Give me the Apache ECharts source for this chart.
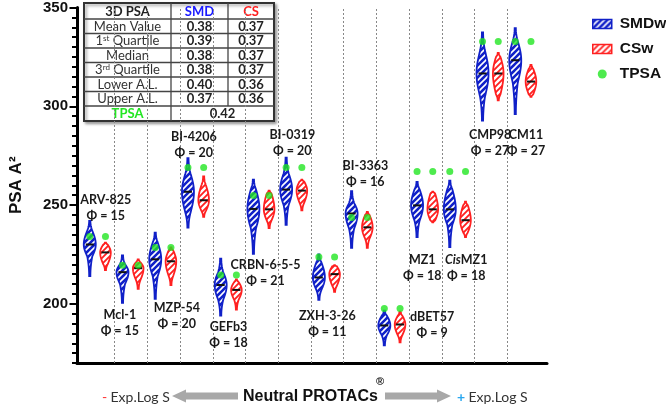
<!DOCTYPE html>
<html>
<head>
<meta charset="utf-8">
<script src="https://cdn.jsdelivr.net/npm/echarts@6/dist/echarts.min.js"></script>
<style>
html, body { margin: 0; padding: 0; background: #fff; }
#chart { width: 666px; height: 405px; }
</style>
</head>
<body>
<div id="chart"></div>
<script>
// PROTAC names and their phi values
const compounds = ['ARV-825', 'Mcl-1', 'MZP-54', 'BI-4206', 'GEFb3', 'CRBN-6-5-5', 'BI-0319',
  'ZXH-3-26', 'BI-3363', 'dBET57', 'MZ1', 'CisMZ1', 'CMP98', 'CM11']
const phi = [15, 15, 20, 20, 18, 21, 20, 11, 16, 9, 18, 18, 27, 27]

// SMDw violins: min, body low, median, body high, max
const smdMin = [214, 200.5, 202.5, 238.5, 194, 225.3, 240, 202, 228.3, 179, 233.7, 228.7, 292.7, 296]
const smdLow = [224, 210, 214, 246, 202, 238, 250, 207, 238, 184, 242, 240, 305, 312]
const smdMed = [230, 216, 222.5, 256.7, 209.5, 248, 257.8, 213.3, 245.7, 189, 249.8, 247.8, 316.6, 323.3]
const smdHigh = [237, 220, 231, 266, 216, 258, 266, 221, 251, 194, 258, 258, 328, 333]
const smdMax = [242, 224.5, 236, 273.7, 222.8, 262.8, 274, 225, 257, 196.5, 261.7, 262.3, 337.4, 339.5]

// CSw violins
const csMin = [217, 207.5, 209.5, 244, 197, 238.3, 247.3, 206, 228.3, 180.5, 241.2, 233.7, 303, 304.7]
const csLow = [220, 212, 214, 247, 202, 242, 251, 209, 233, 184, 242, 236, 306, 306]
const csMed = [226, 218, 221.5, 252.4, 207, 247.8, 257.3, 215, 238.7, 189.5, 247.8, 242.3, 316.6, 312.5]
const csHigh = [230, 221, 227, 260, 211, 256, 262, 219, 245, 194, 256, 250, 325, 319]
const csMax = [231, 222.5, 228.5, 264.5, 212.3, 257.3, 262.8, 219.5, 246.5, 196, 256.7, 251.7, 327, 321]

// topological PSA
const tpsa = [234, 219.5, 228.5, 269, 214.5, 254.8, 269, 223.7, 243.7, 197.6, 267, 267, 332.8, 332.8]

// where each name label sits (category units, PSA units)
const labelX = [0.73, 1.16, 2.9, 3.42, 4.48, 5.61, 6.43, 7.5, 8.66, 10.7, 10.4, 11.74, 12.47, 13.57]
const labelY = [248.4, 190.1, 193.8, 280.5, 184, 215.7, 281.3, 190, 265.8, 189.2, 218, 217.9, 281.3, 281.3]

const yTicks = [200, 250, 300, 350]

// inset table
const statRows = ['Mean Value', '1{sup|st} Quartile', 'Median', '3{sup|rd} Quartile', 'Lower A.L.', 'Upper A.L.']
const smdStats = ['0.38', '0.39', '0.38', '0.38', '0.40', '0.37']
const csStats = ['0.37', '0.37', '0.37', '0.37', '0.36', '0.36']
const tpsaR = '0.42'

const BLUE = '#1020c8'
const RED = '#ff2020'
const GREEN = '#22e622'
const SMD_OFF = 0.24
const CS_OFF = 0.72

function hatch (bg, fg, lw) {
  let c = document.createElement('canvas')
  c.width = 6
  c.height = 6
  let g = c.getContext('2d')
  g.fillStyle = bg
  g.fillRect(0, 0, 6, 6)
  g.strokeStyle = fg
  g.lineWidth = lw
  g.beginPath()
  g.moveTo(-1, 7); g.lineTo(7, -1)
  g.moveTo(-1, 1); g.lineTo(1, -1)
  g.moveTo(5, 7); g.lineTo(7, 5)
  g.stroke()
  return { image: c, repeat: 'repeat' }
}
const bluePat = hatch(BLUE, '#ffffff', 1.6)
const redPat = hatch('#ffffff', RED, 1.8)

// half width profile, 0..1
function profile (v, lo, b0, med, b1, hi) {
  const tail = 0.1, base = 0.42
  if (v < b0) { let t = (v - lo) / (b0 - lo); return tail + (base - tail) * t * t }
  if (v > b1) { let t = (hi - v) / (hi - b1); return tail + (base - tail) * t * t }
  let s = v <= med
    ? Math.sin(Math.PI / 2 * (v - b0) / (med - b0))
    : Math.sin(Math.PI / 2 * (b1 - v) / (b1 - med))
  return base + (1 - base) * s
}

function violin (offset, halfW, color, fill) {
  return function (params, api) {
    let x = api.value(0) + offset
    let lo = api.value(1), b0 = api.value(2), med = api.value(3), b1 = api.value(4), hi = api.value(5)
    let left = [], right = []
    let n = 50
    for (let k = 0; k <= n; k++) {
      let v = lo + (hi - lo) * k / n
      let p = api.coord([x, v])
      let w = profile(v, lo, b0, med, b1, hi) * halfW
      left.push([p[0] - w, p[1]])
      right.unshift([p[0] + w, p[1]])
    }
    let pm = api.coord([x, med])
    return {
      type: 'group',
      children: [
        { type: 'polygon', shape: { points: left.concat(right) }, style: { fill: fill, stroke: color, lineWidth: 1.8 } },
        { type: 'line', shape: { x1: pm[0] - 4, y1: pm[1], x2: pm[0] + 4, y2: pm[1] }, style: { stroke: '#111', lineWidth: 2 } }
      ]
    }
  }
}

// compound name + phi, placed through the axes
const labelFont = { fontFamily: 'Lato', fontWeight: 'bold', fontSize: 12.5, fill: '#1a1a1a', lineHeight: 16 }
function nameLabel (params, api) {
  let i = params.dataIndex
  let p = api.coord([api.value(0), api.value(1)])
  let name = compounds[i]
  let first = name.indexOf('Cis') === 0 ? '{it|Cis}{b|' + name.slice(3) + '}' : '{b|' + name + '}'
  return {
    type: 'text', x: p[0], y: p[1],
    style: {
      text: first + '\n{b|Φ = ' + phi[i] + '}',
      align: 'center', verticalAlign: 'middle',
      rich: { b: labelFont, it: Object.assign({}, labelFont, { fontStyle: 'italic' }) }
    }
  }
}

// table graphic
const colX = [84, 171, 228, 274]
const rowY = [3, 19, 33.5, 48, 62.5, 77, 91.5, 106, 121]
function tableGraphic () {
  let ch = []
  ch.push({ type: 'rect', shape: { x: colX[0], y: rowY[0], width: colX[3] - colX[0], height: rowY[8] - rowY[0] },
    style: { fill: '#fff', stroke: '#333', lineWidth: 2, shadowBlur: 3, shadowOffsetX: 2, shadowOffsetY: 2, shadowColor: 'rgba(0,0,0,0.35)' } })
  for (let r = 1; r < 8; r++) {
    ch.push({ type: 'line', shape: { x1: colX[0], y1: rowY[r], x2: colX[3], y2: rowY[r] }, style: { stroke: '#444', lineWidth: 1.3 } })
  }
  ch.push({ type: 'line', shape: { x1: colX[1], y1: rowY[0], x2: colX[1], y2: rowY[8] }, style: { stroke: '#444', lineWidth: 1.3 } })
  ch.push({ type: 'line', shape: { x1: colX[2], y1: rowY[0], x2: colX[2], y2: rowY[7] }, style: { stroke: '#444', lineWidth: 1.3 } })
  const base = { fontFamily: 'Lato', fontSize: 13, fill: '#222' }
  const cell = (c0, c1, r, text, st) => ({
    type: 'text',
    x: (colX[c0] + colX[c1]) / 2,
    y: (rowY[r] + rowY[r + 1]) / 2 + 0.5,
    style: Object.assign({ text: text, align: 'center', verticalAlign: 'middle' }, base, st)
  })
  ch.push(cell(0, 1, 0, '3D PSA', { fontWeight: 'bold' }))
  ch.push(cell(1, 2, 0, 'SMD', { fontWeight: 'bold', fill: '#1a1aff' }))
  ch.push(cell(2, 3, 0, 'CS', { fontWeight: 'bold', fill: RED }))
  statRows.forEach((s, i) => {
    ch.push(cell(0, 1, i + 1, s, { fill: '#333', rich: { sup: { fontFamily: 'Lato', fontSize: 8, verticalAlign: 'top', fill: '#333' } } }))
    ch.push(cell(1, 2, i + 1, smdStats[i], { fontWeight: 'bold' }))
    ch.push(cell(2, 3, i + 1, csStats[i], { fontWeight: 'bold' }))
  })
  ch.push(cell(0, 1, 7, 'TPSA', { fontWeight: 'bold', fill: GREEN }))
  ch.push(cell(1, 3, 7, tpsaR, { fontWeight: 'bold' }))
  return { type: 'group', z: 100, children: ch }
}

function arrow (tip, base, end, cy) {
  return {
    type: 'polygon', z: 100,
    shape: { points: [[tip, cy], [base, cy - 6.5], [base, cy - 3.5], [end, cy - 3.5], [end, cy + 3.5], [base, cy + 3.5], [base, cy + 6.5]] },
    style: { fill: '#a8a8a8' }
  }
}

let chart = echarts.init(document.getElementById('chart'))

const option = {
  animation: false,
  grid: { left: 76, right: 119, top: 4, bottom: 42 },
  xAxis: {
    type: 'value', min: -0.15, max: 14.21,
    axisLine: { onZero: false, lineStyle: { color: '#000', width: 3 } },
    axisTick: { show: false }, axisLabel: { show: false }, splitLine: { show: false }
  },
  yAxis: [
    {
      type: 'value', min: 170, max: 350, position: 'left',
      axisLine: { show: true, onZero: false, lineStyle: { color: '#000', width: 3 } },
      axisTick: { show: true, customValues: yTicks, length: 7.5, lineStyle: { color: '#000', width: 2 } },
      axisLabel: { customValues: yTicks, fontFamily: 'Liberation Sans', fontWeight: 'bold', fontSize: 15, color: '#111', margin: 9 },
      splitLine: { show: false },
      name: 'PSA A²', nameLocation: 'middle', nameGap: 52,
      nameTextStyle: { fontFamily: 'Liberation Sans', fontWeight: 'bold', fontSize: 17, color: '#111' }
    },
    {
      type: 'value', min: 170, max: 350, interval: 5, position: 'left',
      axisLine: { show: false, onZero: false },
      axisTick: { show: true, length: 5, lineStyle: { color: '#000', width: 2 } },
      axisLabel: { show: false }, splitLine: { show: false }
    }
  ],
  legend: {
    orient: 'vertical', left: 587, top: 11, itemWidth: 19, itemHeight: 9, itemGap: 9,
    textStyle: { fontFamily: 'Liberation Sans', fontWeight: 'bold', fontSize: 15.5, color: '#111', padding: [0, 0, 0, 3] },
    data: [
      { name: 'SMDw', icon: 'rect', itemStyle: { color: bluePat, borderColor: BLUE, borderWidth: 1.5 } },
      { name: 'CSw', icon: 'rect', itemStyle: { color: redPat, borderColor: RED, borderWidth: 1.5 } },
      { name: 'TPSA', icon: 'circle', itemStyle: { color: GREEN } }
    ]
  },
  graphic: [
    tableGraphic(),
    arrow(172, 186, 238, 396),
    arrow(451, 437, 385, 396),
    { type: 'text', z: 100, x: 102, y: 397, style: { verticalAlign: 'middle', text: '{m|-} {t|Exp.Log S}',
      rich: { m: { fill: '#ff3030', fontFamily: 'Lato', fontSize: 14 }, t: { fill: '#333', fontFamily: 'Lato', fontSize: 14 } } } },
    { type: 'text', z: 100, x: 457, y: 397, style: { verticalAlign: 'middle', text: '{p|+} {t|Exp.Log S}',
      rich: { p: { fill: '#2aa8f0', fontFamily: 'Lato', fontSize: 14, fontWeight: 'bold' }, t: { fill: '#333', fontFamily: 'Lato', fontSize: 14 } } } },
    { type: 'text', z: 100, x: 243, y: 397, style: { verticalAlign: 'middle', text: 'Neutral PROTACs',
      fontFamily: 'Liberation Sans', fontWeight: 'bold', fontSize: 16, fill: '#111' } },
    { type: 'text', z: 100, x: 376, y: 382, style: { verticalAlign: 'middle', text: '®',
      fontFamily: 'Liberation Sans', fontWeight: 'bold', fontSize: 11, fill: '#111' } }
  ],
  series: [
    {
      name: 'SMDw', type: 'custom', z: 3,
      itemStyle: { color: BLUE },
      renderItem: violin(SMD_OFF, 6, BLUE, bluePat),
      data: compounds.map((c, i) => [i, smdMin[i], smdLow[i], smdMed[i], smdHigh[i], smdMax[i]])
    },
    {
      name: 'CSw', type: 'custom', z: 3,
      itemStyle: { color: RED },
      renderItem: violin(CS_OFF, 5.3, RED, redPat),
      data: compounds.map((c, i) => [i, csMin[i], csLow[i], csMed[i], csHigh[i], csMax[i]])
    },
    {
      name: 'TPSA', type: 'scatter', z: 4, symbolSize: 7,
      itemStyle: { color: GREEN },
      data: compounds.flatMap((c, i) => [[i + SMD_OFF, tpsa[i]], [i + CS_OFF, tpsa[i]]]),
      markLine: {
        silent: true, symbol: 'none', label: { show: false },
        lineStyle: { color: '#888', width: 1, type: [2, 2] },
        data: compounds.slice(1).map((c, i) => ({ xAxis: i + 1 }))
      }
    },
    {
      name: 'labels', type: 'custom', z: 5, silent: true,
      renderItem: nameLabel,
      data: compounds.map((c, i) => [labelX[i], labelY[i]])
    }
  ]
}
chart.setOption(option, true)
</script>
</body>
</html>
